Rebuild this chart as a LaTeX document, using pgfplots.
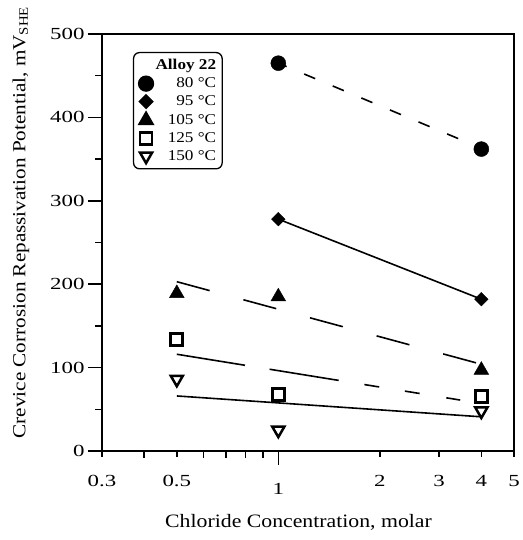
\documentclass[border=0pt]{standalone}
\usepackage{fontspec}
\setmainfont{Liberation Serif}[FakeStretch=1.15]
\newfontfamily\tickfont{Liberation Serif}[FakeStretch=1.35]
\usepackage{pgfplots}
\pgfplotsset{compat=1.18}
\begin{document}
\begin{tikzpicture}
\begin{axis}[
  name=ax,
  scale only axis, width=412bp, height=417bp,
  xmode=log, xmin=0.3, xmax=5, ymin=0, ymax=500,
  axis line style={line width=1.5bp},
  every tick/.style={line width=1.5bp, black},
  tick align=outside,
  xtick pos=bottom, ytick pos=left,
  major tick length=14bp, minor tick length=7bp,
  xtick={1}, xticklabels={1},
  extra x ticks={0.3,0.5,2,3,4,5},
  extra x tick labels={0.3,0.5,2,\raisebox{-5bp}{3},4,5},
  extra x tick style={major tick length=6bp},
  minor xtick={0.4,0.6,0.7,0.8,0.9},
  ytick={0,100,...,500}, minor ytick={50,150,...,450},
  /pgf/number format/assume math mode=true,
  ticklabel style={font=\tickfont\fontsize{17}{19}\selectfont},
  xticklabel style={yshift=-15bp},
  xlabel={Chloride Concentration, molar},
  ylabel={Crevice Corrosion Repassivation Potential, mV\textsubscript{SHE}},
  xlabel style={font=\fontsize{19}{22}\selectfont, at={(axis description cs:0.477,-0.170)}, anchor=center},
  ylabel style={font=\fontsize{18.5}{22}\selectfont, at={(axis description cs:-0.197,0.548)}, anchor=center},
  legend style={at={(axis description cs:0.075,0.957)}, anchor=north west,
    draw=black, line width=1.3bp, rounded corners=6bp,
    font=\fontsize{15}{17}\selectfont, row sep=2.5bp, inner xsep=4bp, inner ysep=5bp},
  legend cell align=right,
]
\addlegendimage{empty legend}
\addlegendentry{\textbf{Alloy 22}\hspace{10bp}}
% fit lines
\addplot[black, line width=1.6bp, dash pattern=on 12bp off 19bp, dash phase=3bp, forget plot]
  coordinates {(1,465) (4,363)};
\addplot[black, line width=1.6bp, forget plot]
  coordinates {(1,278) (4,182)};
\addplot[black, line width=1.6bp, dash pattern=on 34bp off 35bp, forget plot]
  coordinates {(0.5,203) (4,104)};
\addplot[black, line width=1.6bp, dash pattern=on 69bp off 25bp on 70bp off 26bp on 15bp off 26bp on 15bp off 27bp on 14bp off 60bp, forget plot]
  coordinates {(0.5,116) (4,57)};
\addplot[black, line width=1.6bp, forget plot]
  coordinates {(0.5,66) (4,41)};
% data
\addplot[only marks, mark=*, mark size=7.5bp, black]
  coordinates {(1,465) (4,362)};
\addlegendentry{80 °C\hspace{12bp}}
\addplot[only marks, mark=square*, mark size=4.8bp, mark options={rotate=45}, black]
  coordinates {(1,278) (4,182)};
\addlegendentry{95 °C\hspace{12bp}}
\addplot[only marks, mark=triangle*, mark size=8.5bp, black]
  coordinates {(0.5,189) (1,185) (4,97)};
\addlegendentry{105 °C\hspace{10bp}}
\addplot[only marks, mark=square, mark size=6bp, mark options={line width=2.8bp, fill=white}, black]
  coordinates {(0.5,134) (1,68) (4,65)};
\addlegendentry{125 °C\hspace{10bp}}
\addplot[only marks, mark=triangle, mark size=7bp, mark options={rotate=180, line width=2.5bp, fill=white}, black]
  coordinates {(0.5,86) (1,25) (4,48)};
\addlegendentry{150 °C\hspace{10bp}}
\end{axis}
\pgfresetboundingbox
\path ([shift={(-102bp,-89bp)}]ax.south west) rectangle ([shift={(8bp,34bp)}]ax.north east);
\end{tikzpicture}
\end{document}
